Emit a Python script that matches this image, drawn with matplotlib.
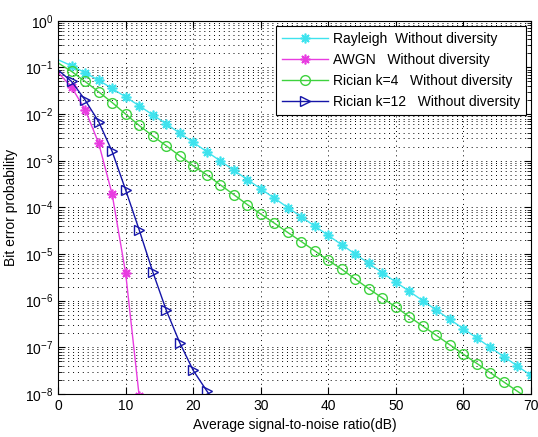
import numpy as np
import matplotlib.pyplot as plt
from matplotlib.ticker import LogLocator, NullFormatter, FixedLocator

plt.rcParams['font.family'] = ['Liberation Sans', 'DejaVu Sans']

# SNR grid (dB) and bit error probability of each channel
snr_ray = [0, 2, 4, 6, 8, 10, 12, 14, 16, 18, 20, 22, 24, 26, 28, 30, 32, 34,
           36, 38, 40, 42, 44, 46, 48, 50, 52, 54, 56, 58, 60, 62, 64, 66, 68, 70]
ber_ray = [0.146, 0.1085, 0.0771, 0.053, 0.0355, 0.0233, 0.0151, 0.00967,
           0.00617, 0.00392, 0.00248, 0.00157, 9.95e-4, 6.28e-4, 3.96e-4,
           2.5e-4, 1.577e-4, 9.95e-5, 6.28e-5, 3.96e-5, 2.5e-5, 1.577e-5,
           9.95e-6, 6.28e-6, 3.96e-6, 2.5e-6, 1.577e-6, 9.95e-7, 6.28e-7,
           3.96e-7, 2.5e-7, 1.577e-7, 9.95e-8, 6.28e-8, 3.96e-8, 2.5e-8]

snr_awgn = [0, 2, 4, 6, 8, 10, 12, 14]
ber_awgn = [0.0786, 0.0375, 0.0125, 0.00239, 1.91e-4, 3.87e-6, 9.0e-9, 6.0e-12]

snr_k4 = [0, 2, 4, 6, 8, 10, 12, 14, 16, 18, 20, 22, 24, 26, 28, 30, 32, 34,
          36, 38, 40, 42, 44, 46, 48, 50, 52, 54, 56, 58, 60, 62, 64, 66, 68, 70]
ber_k4 = [0.125, 0.082, 0.050, 0.030, 0.0177, 0.0100, 0.0057, 0.0034, 0.0021,
          0.00128, 7.8e-4, 5.0e-4, 3.05e-4, 1.88e-4, 1.15e-4, 7.2e-5, 4.6e-5,
          2.9e-5, 1.85e-5, 1.17e-5, 7.3e-6, 4.7e-6, 2.9e-6, 1.8e-6, 1.14e-6,
          7.3e-7, 4.5e-7, 2.85e-7, 1.8e-7, 1.13e-7, 7.1e-8, 4.5e-8, 2.85e-8,
          1.8e-8, 1.14e-8, 7.2e-9]

snr_k12 = [0, 2, 4, 6, 8, 10, 12, 14, 16, 18, 20, 22, 24]
ber_k12 = [0.088, 0.050, 0.020, 0.0069, 1.58e-3, 2.36e-4, 3.3e-5, 4.2e-6,
           6.3e-7, 1.26e-7, 3.2e-8, 1.17e-8, 4.5e-9]

labels = ['Rayleigh  Without diversity', 'AWGN   Without diversity',
          'Rician k=4   Without diversity', 'Rician k=12   Without diversity']

# eight-armed asterisk like the classic '*' marker
asterisk = (8, 2, 0)

fig = plt.figure(figsize=(5.38, 4.37), dpi=100)
ax = fig.add_axes([0.108, 0.0984, 0.879, 0.854])

ax.semilogy(snr_ray, ber_ray, '-', marker=asterisk, color='#3ee3ee', lw=1,
            ms=7, mew=1.2, markevery=slice(1, None), label=labels[0])
ax.semilogy(snr_awgn, ber_awgn, '-', marker=asterisk, color='#e83ce0', lw=1,
            ms=7, mew=1.2, markevery=slice(1, None), label=labels[1])
ax.semilogy(snr_k4, ber_k4, '-o', color='#3ed23e', lw=1, ms=7, mfc='none',
            markevery=slice(1, None), label=labels[2])
ax.semilogy(snr_k12, ber_k12, '->', color='#1515a8', lw=1, ms=7, mfc='none',
            markevery=slice(1, None), label=labels[3])

ax.set_xlim(0, 70)
ax.set_ylim(1e-8, 1)
ax.xaxis.set_major_locator(FixedLocator(np.arange(0, 71, 10)))
ax.yaxis.set_major_locator(LogLocator(base=10, numticks=20))
ax.yaxis.set_minor_locator(LogLocator(base=10, subs=np.arange(2, 10), numticks=20))
ax.yaxis.set_minor_formatter(NullFormatter())

# dotted grid, major and minor on y
ax.grid(True, which='major', axis='both', color='k', lw=0.7, linestyle=(0, (1, 4)))
ax.grid(True, which='minor', axis='y', color='k', lw=0.7, linestyle=(0, (1, 4)))

ax.tick_params(which='both', direction='in', top=True, right=True, labelsize=10)
ax.tick_params(which='major', length=5)
ax.tick_params(which='minor', length=3)
for s in ax.spines.values():
    s.set_linewidth(0.8)

ax.set_xlabel('Average signal-to-noise ratio(dB)', fontsize=10, labelpad=4)
ax.set_ylabel('Bit error probability', fontsize=10, labelpad=5)

leg = ax.legend(loc='upper right', fontsize=10, numpoints=1, handlelength=3.3,
                fancybox=False, framealpha=1, edgecolor='k', borderaxespad=0.35,
                labelspacing=0.5, handletextpad=0.35, borderpad=0.45)
leg.get_frame().set_linewidth(0.8)

fig.savefig('out.png', dpi=100)
